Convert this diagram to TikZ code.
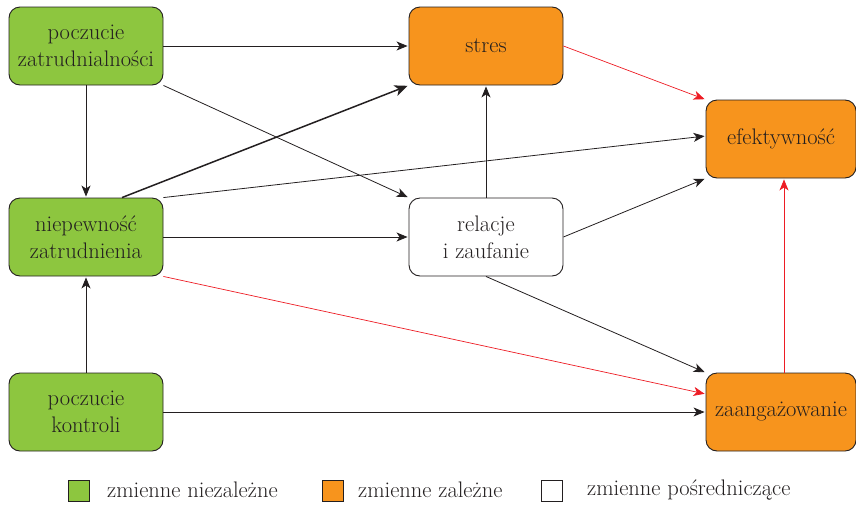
\documentclass[tikz,border=0pt]{standalone}
\usepackage{fontspec}
\usetikzlibrary{arrows.meta}
\definecolor{boxgreen}{HTML}{8DC63F}
\definecolor{boxorange}{HTML}{F7941D}
\definecolor{linkred}{HTML}{ED1C24}
\definecolor{ink}{HTML}{231F20}
\newcommand{\diagfont}{\addfontfeature{FakeBold=0.6}\fontsize{22.5}{27}\selectfont}
\begin{document}
\begin{tikzpicture}[x=1pt,y=-1pt,
 box/.style={draw=ink, line width=0.9pt, rounded corners=11pt, minimum width=154pt, minimum height=78pt, align=center, font=\diagfont, text=ink, inner sep=0pt},
 ind/.style={box, fill=boxgreen},
 dep/.style={box, fill=boxorange},
 med/.style={box, fill=white},
 link/.style={draw=ink, line width=0.8pt, -{Stealth[length=11pt,width=9pt,inset=3pt]}, shorten >=1pt},
 redlink/.style={link, draw=linkred, line width=0.7pt},
 leg/.style={draw=ink, line width=0.8pt, minimum size=21pt, inner sep=0pt},
 legtext/.style={anchor=west, font=\diagfont, text=ink, inner sep=0pt}]
\useasboundingbox (0,0) rectangle (856,504);

\node[ind] (zat) at (86,46) {poczucie\\zatrudnialności};
\node[ind] (niep) at (86,237) {niepewność\\zatrudnienia};
\node[ind] (kont) at (86,412) {poczucie\\kontroli};
\node[dep] (stres) at (486,46) {stres};
\node[med] (rel) at (486,237) {relacje\\i zaufanie};
\node[dep, minimum width=150pt] (efek) at (781,139) {efektywność};
\node[dep, minimum width=150pt] (zaan) at (781,412) {zaangażowanie};

\draw[link] (zat.east) -- (stres.west);
\draw[link] (zat.south east) -- (rel.north west);
\draw[link] (zat.south) -- (niep.north);
\draw[link, line width=1.5pt, -{Stealth[length=13pt,width=11pt,inset=3.5pt]}] ([xshift=36pt]niep.north) -- (stres.south west);
\draw[link] (niep.north east) -- ([yshift=3pt]efek.west);
\draw[link] (niep.east) -- (rel.west);
\draw[redlink] (niep.south east) -- ([yshift=18pt]zaan.west);
\draw[link] (rel.north) -- (stres.south);
\draw[link] (rel.east) -- (efek.south west);
\draw[link] (rel.south) -- (zaan.north west);
\draw[redlink] (stres.east) -- (efek.north west);
\draw[redlink] ([xshift=3pt]zaan.north) -- ([xshift=3pt]efek.south);
\draw[link] (kont.north) -- (niep.south);
\draw[link] (kont.east) -- (zaan.west);

\node[leg, fill=boxgreen] (lg) at (79,491) {};
\node[legtext] (lgt) at (107,490) {zmienne niezależne};
\node[leg, fill=boxorange] (lo) at (333,491) {};
\node[legtext] (lot) at (358,490) {zmienne zależne};
\node[leg, fill=white] (lw) at (552,491) {};
\node[legtext] (lwt) at (587,490) {zmienne pośredniczące};
\end{tikzpicture}
\end{document}
